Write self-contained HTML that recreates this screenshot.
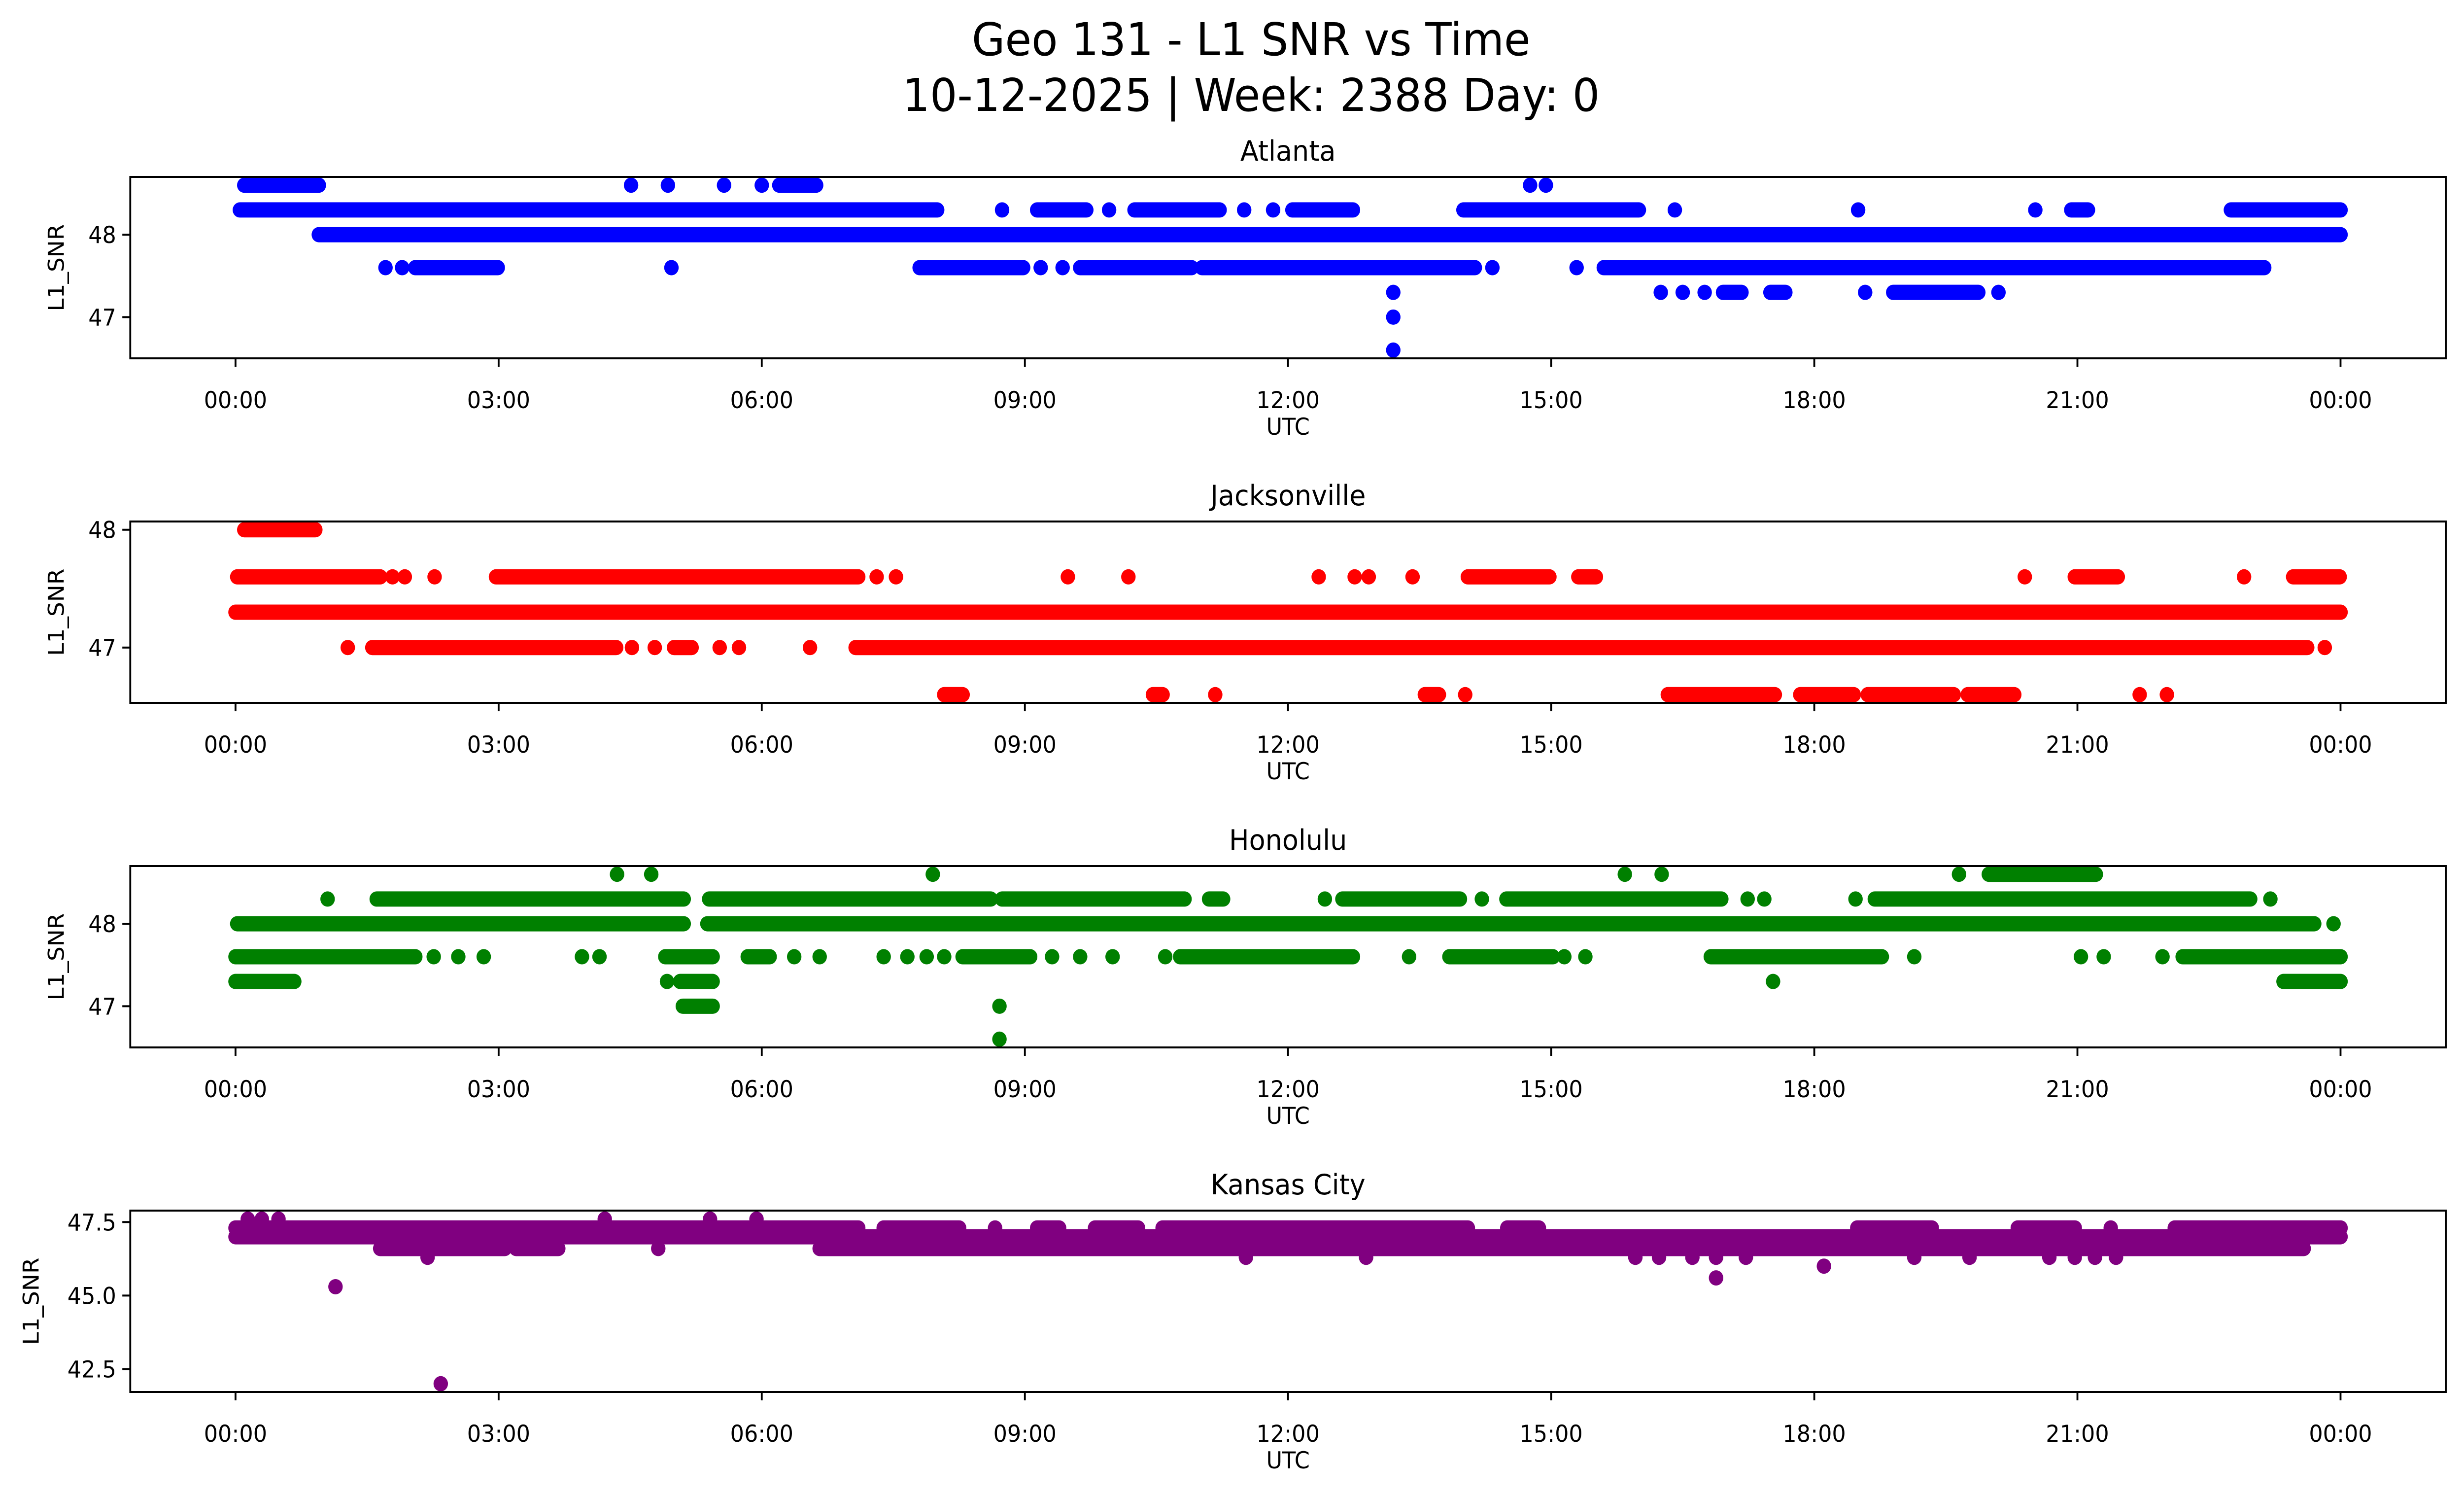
<!DOCTYPE html>
<html><head><meta charset="utf-8"><title>Geo 131 - L1 SNR vs Time</title>
<style>
html,body{margin:0;padding:0;background:#fff;width:100%;height:100%;overflow:hidden;}
svg{display:block;position:fixed;left:0;top:0;width:100vw;height:100vh;font-family:"DejaVu Sans","Liberation Sans",sans-serif;}
</style></head>
<body>
<svg id="fig" xmlns="http://www.w3.org/2000/svg" viewBox="0 0 5278 3033" preserveAspectRatio="none">
<rect width="5278" height="3033" fill="#fff"/>
<text x="2680" y="112" font-size="92" text-anchor="middle">Geo 131 - L1 SNR vs Time</text>
<text x="2680" y="225" font-size="92" text-anchor="middle">10-12-2025 | Week: 2388 Day: 0</text>
</svg>
<script>
// ---- shared x axis data ----
const xTickHours = [0,3,6,9,12,15,18,21,24];
const xTickLabels = ['00:00','03:00','06:00','09:00','12:00','15:00','18:00','21:00','00:00'];

// ---- Atlanta (runs of consecutive samples: start hour, end hour, SNR) ----
const atlantaStart = [0.1,4.51,4.93,5.57,6.0,6.2,14.76,14.94,
  0.05,8.74,9.14,9.96,10.25,11.5,11.83,12.05,14.0,16.41,18.5,20.52,20.93,22.75,
  0.95,
  1.71,1.9,2.05,4.97,7.8,9.18,9.43,9.63,11.02,14.33,15.29,15.6,
  13.2,16.25,16.5,16.75,16.96,17.5,18.58,18.9,20.1,
  13.2,13.2];
const atlantaEnd = [0.95,4.51,4.93,5.57,6.0,6.62,14.76,14.94,
  8.0,8.74,9.7,9.96,11.22,11.5,11.83,12.74,16.0,16.41,18.5,20.52,21.12,24.0,
  24.0,
  1.71,1.9,2.99,4.97,8.98,9.18,9.43,10.9,14.13,14.33,15.29,23.13,
  13.2,16.25,16.5,16.75,17.17,17.67,18.58,19.87,20.1,
  13.2,13.2];
const atlantaSNR = [48.6,48.6,48.6,48.6,48.6,48.6,48.6,48.6,
  48.3,48.3,48.3,48.3,48.3,48.3,48.3,48.3,48.3,48.3,48.3,48.3,48.3,48.3,
  48.0,
  47.6,47.6,47.6,47.6,47.6,47.6,47.6,47.6,47.6,47.6,47.6,47.6,
  47.3,47.3,47.3,47.3,47.3,47.3,47.3,47.3,47.3,
  47.0,46.6];
const atlantaYTicks = [47,48];
const atlantaYLabels = ['47','48'];

// ---- Jacksonville ----
const jaxStart = [0.1,
  0.02,1.79,1.93,2.27,2.97,7.31,7.53,9.49,10.18,12.35,12.76,12.92,13.42,14.05,15.31,20.4,20.97,22.9,23.46,
  0,
  1.28,1.56,4.52,4.78,5.0,5.52,5.74,6.55,7.07,23.82,
  8.08,10.46,11.17,13.56,14.02,16.33,17.84,18.61,19.75,21.71,22.02];
const jaxEnd = [0.91,
  1.65,1.79,1.93,2.27,7.1,7.31,7.53,9.49,10.18,12.35,12.76,12.92,13.42,14.98,15.51,20.4,21.46,22.9,23.99,
  24.0,
  1.28,4.34,4.52,4.78,5.2,5.52,5.74,6.55,23.62,23.82,
  8.29,10.57,11.17,13.72,14.02,17.55,18.45,19.59,20.28,21.71,22.02];
const jaxSNR = [48.0,
  47.6,47.6,47.6,47.6,47.6,47.6,47.6,47.6,47.6,47.6,47.6,47.6,47.6,47.6,47.6,47.6,47.6,47.6,47.6,
  47.3,
  47.0,47.0,47.0,47.0,47.0,47.0,47.0,47.0,47.0,47.0,
  46.6,46.6,46.6,46.6,46.6,46.6,46.6,46.6,46.6,46.6,46.6];
const jaxYTicks = [47,48];
const jaxYLabels = ['47','48'];

// ---- Honolulu ----
const honStart = [4.35,4.74,7.95,15.84,16.26,19.65,19.99,
  1.05,1.61,5.4,8.74,11.1,12.42,12.62,14.21,14.49,17.24,17.43,18.47,18.69,23.2,
  0.02,5.38,23.92,
  0,2.26,2.54,2.83,3.95,4.15,4.9,5.84,6.37,6.66,7.39,7.66,7.88,8.08,8.29,9.31,9.63,10.0,10.6,10.77,13.38,13.84,15.15,15.39,16.82,19.14,21.04,21.3,21.97,22.2,
  0,4.92,5.07,17.53,23.35,
  5.1,8.71,
  8.71];
const honEnd = [4.35,4.74,7.95,15.84,16.26,19.65,21.21,
  1.05,5.11,8.61,10.82,11.26,12.42,13.96,14.21,16.94,17.24,17.43,18.47,22.97,23.2,
  5.11,23.7,23.92,
  2.05,2.26,2.54,2.83,3.95,4.15,5.44,6.09,6.37,6.66,7.39,7.66,7.88,8.08,9.06,9.31,9.63,10.0,10.6,12.74,13.38,15.02,15.15,15.39,18.77,19.14,21.04,21.3,21.97,24.0,
  0.67,4.92,5.44,17.53,24.0,
  5.44,8.71,
  8.71];
const honSNR = [48.6,48.6,48.6,48.6,48.6,48.6,48.6,
  48.3,48.3,48.3,48.3,48.3,48.3,48.3,48.3,48.3,48.3,48.3,48.3,48.3,48.3,
  48.0,48.0,48.0,
  47.6,47.6,47.6,47.6,47.6,47.6,47.6,47.6,47.6,47.6,47.6,47.6,47.6,47.6,47.6,47.6,47.6,47.6,47.6,47.6,47.6,47.6,47.6,47.6,47.6,47.6,47.6,47.6,47.6,47.6,
  47.3,47.3,47.3,47.3,47.3,
  47.0,47.0,
  46.6];
const honYTicks = [47,48];
const honYLabels = ['47','48'];

// ---- Kansas City ----
const kcStart = [0.14,0.3,0.49,4.21,5.41,5.94,
  0,7.39,8.66,9.14,9.8,10.57,14.5,18.49,20.32,21.38,22.11,
  0,
  1.65,3.2,4.82,6.66,
  2.19,11.52,12.89,15.96,16.23,16.61,16.88,17.22,19.14,19.77,20.68,20.97,21.2,21.44,
  1.14,2.34,16.88,18.11];
const kcEnd = [0.14,0.3,0.49,4.21,5.41,5.94,
  7.1,8.25,8.66,9.39,10.29,14.05,14.86,19.34,20.97,21.38,24.0,
  24.0,
  3.07,3.68,4.82,23.58,
  2.19,11.52,12.89,15.96,16.23,16.61,16.88,17.22,19.14,19.77,20.68,20.97,21.2,21.44,
  1.14,2.34,16.88,18.11];
const kcSNR = [47.6,47.6,47.6,47.6,47.6,47.6,
  47.3,47.3,47.3,47.3,47.3,47.3,47.3,47.3,47.3,47.3,47.3,
  47.0,
  46.6,46.6,46.6,46.6,
  46.3,46.3,46.3,46.3,46.3,46.3,46.3,46.3,46.3,46.3,46.3,46.3,46.3,46.3,
  45.3,42.0,45.6,46.0];
const kcYTicks = [42.5,45.0,47.5];
const kcYLabels = ['42.5','45.0','47.5'];

const NS = 'http://www.w3.org/2000/svg';
const svg = document.getElementById('fig');
const AX_L = 279, AX_R = 5239, AX_H = 368;
const X_MIN = -1.2, X_MAX = 25.2;
function xScale(h){ return AX_L + (h - X_MIN) / (X_MAX - X_MIN) * (AX_R - AX_L); }
function mk(tag, attrs, parent){
  const el = document.createElementNS(NS, tag);
  for (const k in attrs) el.setAttribute(k, attrs[k]);
  (parent || svg).appendChild(el);
  return el;
}

const panels = [
  {slug:'atlanta', title:'Atlanta', top:359, ymin:46.5, ymax:48.7, color:'#0000ff', start:atlantaStart, end:atlantaEnd, val:atlantaSNR, yt:atlantaYTicks, yl:atlantaYLabels, ylabX:121},
  {slug:'jacksonville', title:'Jacksonville', top:1058, ymin:46.53, ymax:48.07, color:'#ff0000', start:jaxStart, end:jaxEnd, val:jaxSNR, yt:jaxYTicks, yl:jaxYLabels, ylabX:121},
  {slug:'honolulu', title:'Honolulu', top:1757, ymin:46.5, ymax:48.7, color:'#008000', start:honStart, end:honEnd, val:honSNR, yt:honYTicks, yl:honYLabels, ylabX:121},
  {slug:'kansas-city', title:'Kansas City', top:2456, ymin:41.72, ymax:47.89, color:'#800080', start:kcStart, end:kcEnd, val:kcSNR, yt:kcYTicks, yl:kcYLabels, ylabX:67}
];

panels.forEach(p => {
  const g = mk('g', {});
  
  
  const top = p.top, bot = p.top + AX_H;
  const yScale = v => bot - (v - p.ymin) / (p.ymax - p.ymin) * AX_H;
  const clipId = 'clip-' + p.slug;
  const cp = mk('clipPath', {id: clipId}, g);
  mk('rect', {x: AX_L, y: top, width: AX_R - AX_L, height: AX_H}, cp);

  const mg = mk('g', {'clip-path': 'url(#' + clipId + ')'}, g);
  
  
  for (let i = 0; i < p.val.length; i++) {
    const x1 = xScale(p.start[i]), x2 = xScale(p.end[i]), y = yScale(p.val[i]);
    let el;
    if (x2 - x1 < 0.5) {
      el = mk('circle', {cx: x1, cy: y, r: 15.5, fill: p.color}, mg);
    } else {
      el = mk('line', {x1: x1, y1: y, x2: x2, y2: y, stroke: p.color, 'stroke-width': 31, 'stroke-linecap': 'round'}, mg);
    }
    
    
  }

  const fr = mk('rect', {x: AX_L, y: top, width: AX_R - AX_L, height: AX_H, fill: 'none', stroke: '#000', 'stroke-width': 4}, g);
  
  

  xTickHours.forEach((h, i) => {
    const x = xScale(h);
    const t = mk('line', {x1: x, y1: bot, x2: x, y2: bot + 17, stroke: '#000', 'stroke-width': 4}, g);
    
    
    const lab = mk('text', {x: x, y: bot + 101, 'font-size': 47, 'text-anchor': 'middle'}, g);
    lab.textContent = xTickLabels[i];
    
    
  });
  p.yt.forEach((v, i) => {
    const y = yScale(v);
    const t = mk('line', {x1: AX_L - 17, y1: y, x2: AX_L, y2: y, stroke: '#000', 'stroke-width': 4}, g);
    
    
    const lab = mk('text', {x: AX_L - 30, y: y + 17, 'font-size': 47, 'text-anchor': 'end'}, g);
    lab.textContent = p.yl[i];
    
    
  });
  const xl = mk('text', {x: (AX_L + AX_R) / 2, y: bot + 155, 'font-size': 47, 'text-anchor': 'middle'}, g);
  xl.textContent = 'UTC';
  
  
  const cy = top + AX_H / 2;
  const yl = mk('text', {x: p.ylabX, y: cy, 'font-size': 47, 'text-anchor': 'middle', transform: 'rotate(-90 ' + p.ylabX + ' ' + cy + ')', 'dominant-baseline': 'central'}, g);
  yl.textContent = 'L1_SNR';
  
  
  const tt = mk('text', {x: (AX_L + AX_R) / 2, y: top - 33, 'font-size': 57, 'text-anchor': 'middle'}, g);
  tt.textContent = p.title;
  
  
});
</script>
</body></html>
